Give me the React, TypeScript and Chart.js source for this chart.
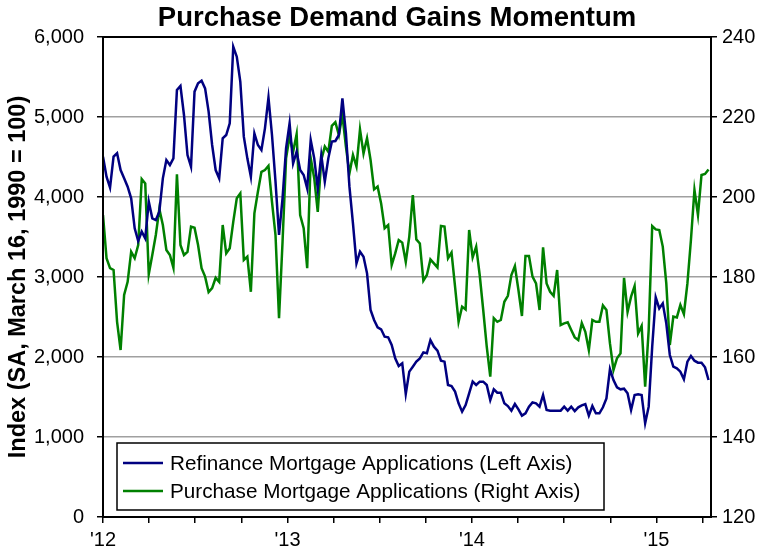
import React, { useEffect, useRef } from "react";
import { Chart, registerables } from "chart.js";

Chart.register(...registerables);

// Weekly index values, Jan 2012 - Apr 2015
const refinance = [
  4504, 4254, 4117, 4504, 4546, 4337, 4233, 4129, 3983, 3608, 3450, 3567, 3483, 3942, 3733, 3712, 3817, 4233, 4462, 4400,
  4483, 5337, 5387, 5025, 4525, 4379, 5317, 5421, 5454, 5358, 5067, 4650, 4337, 4233, 4733,
  4775, 4921, 5879, 5754, 5442, 4754, 4483, 4254, 4796, 4650, 4587, 4858, 5242, 4775, 4192, 3525, 3983, 4608, 4921, 4421,
  4567, 4337, 4275, 4108, 4712, 4483, 4108, 4525, 4192, 4483, 4692, 4700, 4775, 5233,
  4796, 4129, 3671, 3171, 3317, 3254, 3046, 2587, 2462, 2371, 2346, 2254, 2246, 2150, 1983, 1887, 1921, 1537, 1817, 1879,
  1942, 1983, 2058, 2046, 2212, 2129, 2079, 1954, 1942, 1650, 1637, 1567, 1421, 1317,
  1400, 1546, 1692, 1650, 1692, 1692, 1650, 1462, 1596, 1554, 1554, 1421, 1387, 1329, 1412, 1346, 1267, 1296, 1379, 1433,
  1421, 1379, 1525, 1337, 1329, 1329, 1329, 1329, 1379, 1329, 1379, 1325, 1371,
  1395, 1412, 1267, 1387, 1296, 1296, 1371, 1483, 1850, 1712, 1621, 1596, 1604, 1546, 1337, 1525, 1533, 1525, 1171, 1379,
  2129, 2746, 2608, 2671, 2421, 2025, 1879, 1858, 1817, 1721, 1942, 2012, 1954, 1929, 1929, 1871, 1712,
];

const purchase = [
  195.5, 184.7, 182.2, 181.75, 168.8, 161.75, 175.5, 178.8, 186.3, 184.7, 188, 204.5, 203.4, 180.7, 185.5, 190.5, 197, 193,
  186.75, 185.5, 182.3, 205.7, 188, 185.5, 186.3, 192.6, 192.3, 188, 182.2, 180.1, 176.2, 177.2, 179.8, 178.8, 193,
  185.9, 187.2, 193.8, 199.7, 200.9, 184.25, 185.1, 176.3, 195.9, 201.3, 206.3, 206.75, 207.8, 198.8, 190.5, 169.7, 188.8,
  209.7, 215.1, 211.3, 215.7, 195.5, 192.2, 182.2, 209.7, 204.7, 196.3, 209.25, 212.6, 211.3, 217.8, 218.7, 215.5, 220.5,
  212.6, 205.9, 210.5, 207.6, 216.9, 210.9, 214.7, 209.25, 201.9, 202.6, 198.4, 192.2, 193, 183, 185.9, 189.25, 188.6,
  183.8, 190.1, 200.5, 189.4, 188.4, 179.1, 180.5, 184.4, 183.4, 182.4, 192.75, 192.6, 184.7, 186.1, 177.6, 168.8, 172.6,
  171.9, 191.75, 184.9, 187.6, 180.5, 171.75, 162.6, 155.1, 169.7, 168.8, 169.25, 173.8, 175.3, 180.5, 182.75, 176.75,
  170.25, 185.25, 185.25, 180.1, 178.4, 171.75, 187.4, 178.4, 176.3, 175.3, 181.75, 168, 168.4, 168.7, 166.75, 164.9, 164.25,
  168.5, 166.3, 161.75, 169.25, 168.8, 168.8, 172.9, 171.75, 163.4, 156.75, 159.7, 160.9, 179.8, 171.3, 175.1, 177.75,
  165.9, 167.75, 152.6, 166.75, 192.75, 191.9, 191.75, 187.6, 178.4, 163, 170.1, 169.9, 173, 170.75, 178.4, 189.25,
  201.75, 195.5, 205.5, 205.75, 206.9,
];

const yearLabels = ["'12", "'13", "'14", "'15"];
const weeksPerQuarter = 13.1;
const quarterTickCount = 14;
const chartTitle = "Purchase Demand Gains Momentum";
const leftAxisTitle = "Index (SA, March 16, 1990 = 100)";
const seriesNames = [
  "Refinance Mortgage Applications (Left Axis)",
  "Purchase Mortgage Applications (Right Axis)",
];
const seriesColors = ["#000080", "#008000"];

const FONT = "'Liberation Sans', Arial, Helvetica, sans-serif";

const decorPlugin = {
  id: "decor",
  afterDraw(chart: any) {
    const { ctx, chartArea } = chart;
    ctx.save();
    // frame
    ctx.strokeStyle = "#000";
    ctx.lineWidth = 2;
    ctx.strokeRect(chartArea.left, chartArea.top, chartArea.right - chartArea.left, chartArea.bottom - chartArea.top);
    // title
    ctx.fillStyle = "#000";
    ctx.font = `bold 27.5px ${FONT}`;
    ctx.textAlign = "center";
    ctx.textBaseline = "middle";
    ctx.fillText(chartTitle, 397, 18);
    // legend
    const bx = 117, by = 443, bw = 487, bh = 67;
    ctx.fillStyle = "#fff";
    ctx.fillRect(bx, by, bw, bh);
    ctx.strokeStyle = "#000";
    ctx.lineWidth = 1.5;
    ctx.strokeRect(bx, by, bw, bh);
    chart.data.datasets.forEach((ds: any, i: number) => {
      const y = by + 20 + i * 28;
      ctx.strokeStyle = ds.borderColor;
      ctx.lineWidth = 2.5;
      ctx.beginPath();
      ctx.moveTo(bx + 6, y);
      ctx.lineTo(bx + 46, y);
      ctx.stroke();
      ctx.fillStyle = "#000";
      ctx.font = `20.7px ${FONT}`;
      ctx.textAlign = "left";
      ctx.textBaseline = "middle";
      ctx.fillText(ds.label, bx + 53, y + 1);
    });
    ctx.restore();
  },
};

export default function App() {
  const ref = useRef<HTMLCanvasElement>(null);
  useEffect(() => {
    if (!ref.current) return;
    const tickFont = { family: FONT, size: 20 };
    const chart = new Chart(ref.current, {
      type: "line",
      data: {
        datasets: [
          {
            label: seriesNames[0],
            data: refinance.map((v, i) => ({ x: i, y: v })),
            borderColor: seriesColors[0],
            backgroundColor: seriesColors[0],
            borderWidth: 2.5,
            pointRadius: 0,
            yAxisID: "y",
            tension: 0,
          },
          {
            label: seriesNames[1],
            data: purchase.map((v, i) => ({ x: i, y: v })),
            borderColor: seriesColors[1],
            backgroundColor: seriesColors[1],
            borderWidth: 2.5,
            pointRadius: 0,
            yAxisID: "y1",
            tension: 0,
          },
        ],
      },
      options: {
        animation: false,
        responsive: false,
        events: [],
        layout: { padding: { top: 37, left: 0, right: 0, bottom: 0 } },
        plugins: { legend: { display: false }, title: { display: false }, tooltip: { enabled: false } },
        scales: {
          x: {
            type: "linear",
            min: 0,
            max: 172.7,
            afterBuildTicks: (s: any) => {
              s.ticks = Array.from({ length: quarterTickCount }, (_, k) => ({ value: k * weeksPerQuarter }));
            },
            ticks: {
              autoSkip: false,
              maxRotation: 0,
              minRotation: 0,
              padding: 5,
              color: "#000",
              font: tickFont,
              callback: (_v: any, i: number) => (i % 4 === 0 ? yearLabels[i / 4] : ""),
            },
            grid: { drawOnChartArea: false, drawTicks: true, tickLength: 6, color: "#000", lineWidth: 1.5 },
            border: { display: true, color: "#000", width: 2 },
            afterFit: (s: any) => {
              s.height = 38;
            },
          },
          y: {
            position: "left",
            min: 0,
            max: 6000,
            ticks: {
              stepSize: 1000,
              padding: 13,
              color: "#000",
              font: tickFont,
              callback: (v: any) => Number(v).toLocaleString("en-US"),
            },
            grid: { color: "#a0a0a0", lineWidth: 1.5, tickLength: 6, tickColor: "#000", tickWidth: 1.5 },
            border: { color: "#000", width: 2 },
            title: {
              display: true,
              text: leftAxisTitle,
              color: "#000",
              font: { family: FONT, size: 23.5, weight: "bold", lineHeight: 1.2 },
              padding: { top: 4, bottom: 0 },
            },
            afterFit: (s: any) => {
              s.width = 103;
            },
          },
          y1: {
            position: "right",
            min: 120,
            max: 240,
            ticks: { stepSize: 20, padding: 5, color: "#000", font: tickFont },
            grid: { drawOnChartArea: false, tickLength: 6, color: "#000", lineWidth: 1.5 },
            border: { color: "#000", width: 2 },
            afterFit: (s: any) => {
              s.width = 56;
            },
          },
        },
      } as any,
      plugins: [decorPlugin],
    });
    return () => chart.destroy();
  }, []);
  return (
    <div style={{ position: "absolute", left: 0, top: 0, width: 767, height: 555, background: "#fff" }}>
      <canvas ref={ref} width={767} height={555} style={{ display: "block", width: 767, height: 555 }} />
    </div>
  );
}
